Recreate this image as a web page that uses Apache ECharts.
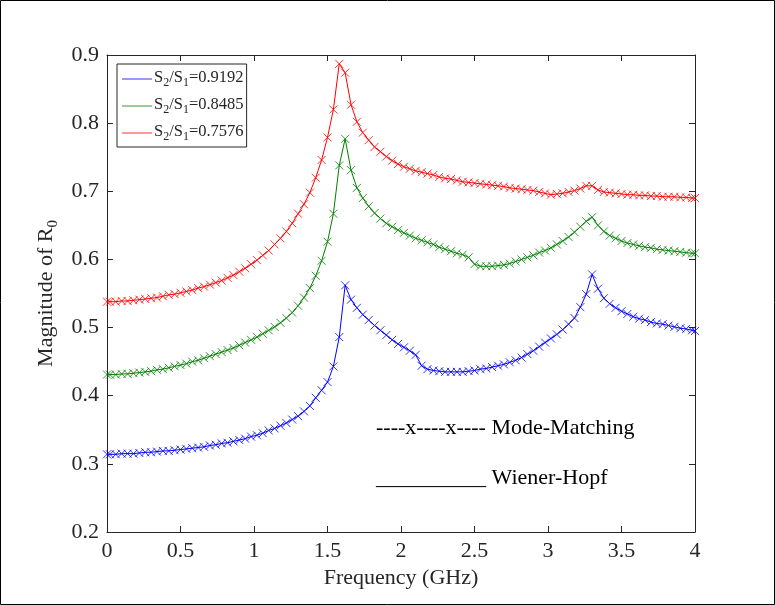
<!DOCTYPE html>
<html>
<head>
<meta charset="utf-8">
<script src="https://cdn.jsdelivr.net/npm/echarts@6/dist/echarts.min.js"></script>
<style>
html,body{margin:0;padding:0;background:#fff;}
#chart{width:775px;height:605px;}
</style>
</head>
<body>
<div id="chart"></div>
<script>
// Frequency samples (GHz)
const freq = [0.00,0.02,0.06,0.10,0.14,0.18,0.22,0.26,0.30,0.34,0.38,0.42,0.46,0.50,0.54,0.58,0.62,0.66,0.70,0.74,0.78,0.82,0.86,0.90,0.94,0.98,
1.02,1.06,1.10,1.14,1.18,1.22,1.26,1.30,1.34,1.38,1.42,1.46,1.50,1.54,1.58,1.62,1.66,1.70,1.74,1.78,1.82,1.86,1.90,1.94,1.98,
2.02,2.06,2.10,2.14,2.18,2.22,2.26,2.30,2.34,2.38,2.42,2.46,2.50,2.54,2.58,2.62,2.66,2.70,2.74,2.78,2.82,2.86,2.90,2.94,2.98,
3.02,3.06,3.10,3.14,3.18,3.22,3.26,3.30,3.34,3.38,3.42,3.46,3.50,3.54,3.58,3.62,3.66,3.70,3.74,3.78,3.82,3.86,3.90,3.94,3.98,4.00];

// S2/S1 = 0.9192 (blue)
const blueVals = [0.314,0.314,0.314,0.315,0.315,0.315,0.316,0.317,0.317,0.318,0.319,0.319,0.320,0.321,0.322,0.323,0.324,0.325,0.327,0.328,0.330,0.331,0.333,0.335,0.337,0.340,
0.342,0.345,0.349,0.352,0.356,0.360,0.365,0.370,0.377,0.385,0.397,0.408,0.420,0.443,0.486,0.562,0.541,0.529,0.519,0.511,0.503,0.496,0.489,0.482,0.476,
0.471,0.466,0.460,0.444,0.439,0.437,0.436,0.435,0.435,0.435,0.435,0.436,0.437,0.439,0.440,0.442,0.444,0.446,0.449,0.452,0.456,0.461,0.466,0.472,0.478,
0.484,0.490,0.497,0.505,0.514,0.530,0.549,0.578,0.557,0.543,0.535,0.529,0.524,0.520,0.516,0.513,0.511,0.508,0.506,0.505,0.503,0.501,0.499,0.498,0.496,0.495];

// S2/S1 = 0.8485 (green)
const greenVals = [0.431,0.431,0.431,0.432,0.432,0.433,0.434,0.435,0.436,0.438,0.439,0.441,0.443,0.445,0.447,0.450,0.452,0.455,0.458,0.461,0.464,0.467,0.470,0.474,0.478,0.482,
0.486,0.491,0.496,0.501,0.507,0.514,0.522,0.532,0.544,0.558,0.576,0.598,0.626,0.667,0.738,0.777,0.731,0.705,0.690,0.678,0.668,0.660,0.653,0.648,0.643,
0.639,0.635,0.631,0.628,0.625,0.622,0.618,0.615,0.612,0.609,0.607,0.603,0.593,0.590,0.590,0.590,0.591,0.592,0.594,0.597,0.600,0.603,0.606,0.610,0.613,
0.617,0.622,0.627,0.633,0.640,0.648,0.656,0.662,0.650,0.641,0.635,0.631,0.627,0.624,0.622,0.620,0.618,0.617,0.615,0.614,0.613,0.612,0.611,0.610,0.609,0.609];

// S2/S1 = 0.7576 (red)
const redVals = [0.538,0.538,0.538,0.539,0.539,0.540,0.541,0.542,0.543,0.544,0.546,0.548,0.549,0.551,0.553,0.555,0.558,0.560,0.563,0.566,0.569,0.573,0.577,0.582,0.587,0.593,
0.599,0.606,0.613,0.622,0.631,0.641,0.653,0.667,0.681,0.698,0.720,0.746,0.779,0.820,0.887,0.874,0.827,0.802,0.786,0.775,0.765,0.758,0.751,0.745,0.740,
0.736,0.733,0.730,0.728,0.726,0.724,0.721,0.719,0.718,0.716,0.714,0.713,0.712,0.711,0.710,0.709,0.708,0.707,0.705,0.704,0.703,0.702,0.701,0.699,0.697,
0.695,0.696,0.697,0.699,0.701,0.704,0.708,0.708,0.702,0.699,0.698,0.697,0.696,0.695,0.695,0.694,0.694,0.693,0.693,0.692,0.692,0.692,0.691,0.691,0.690,0.690];

const seriesNames = ['0.9192','0.8485','0.7576'];
const seriesColors = ['#0000ff','#008000','#ff0000'];
const seriesVals = [blueVals, greenVals, redVals];

const xTicks = {min:0, max:4, interval:0.5};
const yTicks = {min:0.2, max:0.9, interval:0.1};

const FONT = '"Liberation Serif","Times New Roman",serif';
const AX = '#262626';
const X_SYMBOL = 'path://M0,0L10,10M10,0L0,10';

const chart = echarts.init(document.getElementById('chart'), null, {renderer:'canvas'});

const series = seriesNames.map((n, i) => ({
  name: n,
  type: 'line',
  data: freq.map((f, j) => [f, seriesVals[i][j]]),
  xAxisIndex: 0, yAxisIndex: 0,
  symbol: X_SYMBOL,
  symbolSize: 8,
  showSymbol: true,
  clip: true,
  lineStyle: {color: seriesColors[i], width: 1},
  itemStyle: {color: seriesColors[i], borderColor: seriesColors[i], borderWidth: 1, opacity: 0.8},
  emphasis: {disabled: true},
  animation: false
}));

function axisCommon(showLabel){
  return {
    axisLine: {show: true, onZero: false, lineStyle: {color: AX, width: 1}},
    axisTick: {show: true, inside: true, length: 6, lineStyle: {color: AX, width: 1}},
    splitLine: {show: false},
    axisLabel: {show: showLabel, color: AX, fontFamily: FONT, fontSize: 22, margin: 8}
  };
}

const option = {
  backgroundColor: '#ffffff',
  animation: false,
  grid: {left: 107, right: 80, top: 55, bottom: 73, containLabel: false},
  xAxis: [
    Object.assign({type: 'value', position: 'bottom', min: xTicks.min, max: xTicks.max, interval: xTicks.interval,
      name: 'Frequency (GHz)', nameLocation: 'middle', nameGap: 32,
      nameTextStyle: {color: AX, fontFamily: FONT, fontSize: 22}}, axisCommon(true)),
    Object.assign({type: 'value', position: 'top', min: xTicks.min, max: xTicks.max, interval: xTicks.interval}, axisCommon(false))
  ],
  yAxis: [
    Object.assign({type: 'value', position: 'left', min: yTicks.min, max: yTicks.max, interval: yTicks.interval,
      name: '{a|Magnitude of R}{s|0}', nameLocation: 'middle', nameGap: 41, nameRotate: 90,
      nameTextStyle: {color: AX, fontFamily: FONT, fontSize: 22, padding: [0, 0, 0, 0],
        rich: {a: {fontFamily: FONT, fontSize: 22, color: AX, lineHeight: 25, verticalAlign: 'top'},
               s: {fontFamily: FONT, fontSize: 15, color: AX, lineHeight: 15, verticalAlign: 'bottom'}}}}, axisCommon(true)),
    Object.assign({type: 'value', position: 'right', min: yTicks.min, max: yTicks.max, interval: yTicks.interval}, axisCommon(false))
  ],
  legend: {
    show: true,
    orient: 'vertical',
    left: 117, top: 64,
    padding: [5, 3, 4, 5],
    itemGap: 7,
    itemWidth: 30, itemHeight: 1,
    icon: 'rect',
    itemStyle: {borderWidth: 0},
    backgroundColor: '#ffffff',
    borderColor: AX, borderWidth: 1,
    data: seriesNames,
    formatter: n => '{a|S}{s|2}{a|/S}{s|1}{a|=' + n + '}',
    textStyle: {
      fontFamily: FONT, fontSize: 16, color: AX, padding: [0,0,0,-3],
      rich: {a: {fontFamily: FONT, fontSize: 16.5, color: AX, lineHeight: 20, verticalAlign: 'top'},
             s: {fontFamily: FONT, fontSize: 12, color: AX, lineHeight: 12, verticalAlign: 'bottom'}}
    }
  },
  graphic: [
    {type: 'rect', shape: {x: 0.5, y: 0.5, width: 774, height: 604}, style: {fill: 'none', stroke: '#000', lineWidth: 1}, silent: true, z: 100},
    {type: 'text', left: 376, top: 417, style: {text: '----x----x---- Mode-Matching', font: '22px ' + FONT, fill: '#000'}},
    {type: 'text', left: 376, top: 467, style: {text: '__________ Wiener-Hopf', font: '22px ' + FONT, fill: '#000'}}
  ],
  series: series
};

chart.setOption(option);
</script>
</body>
</html>
